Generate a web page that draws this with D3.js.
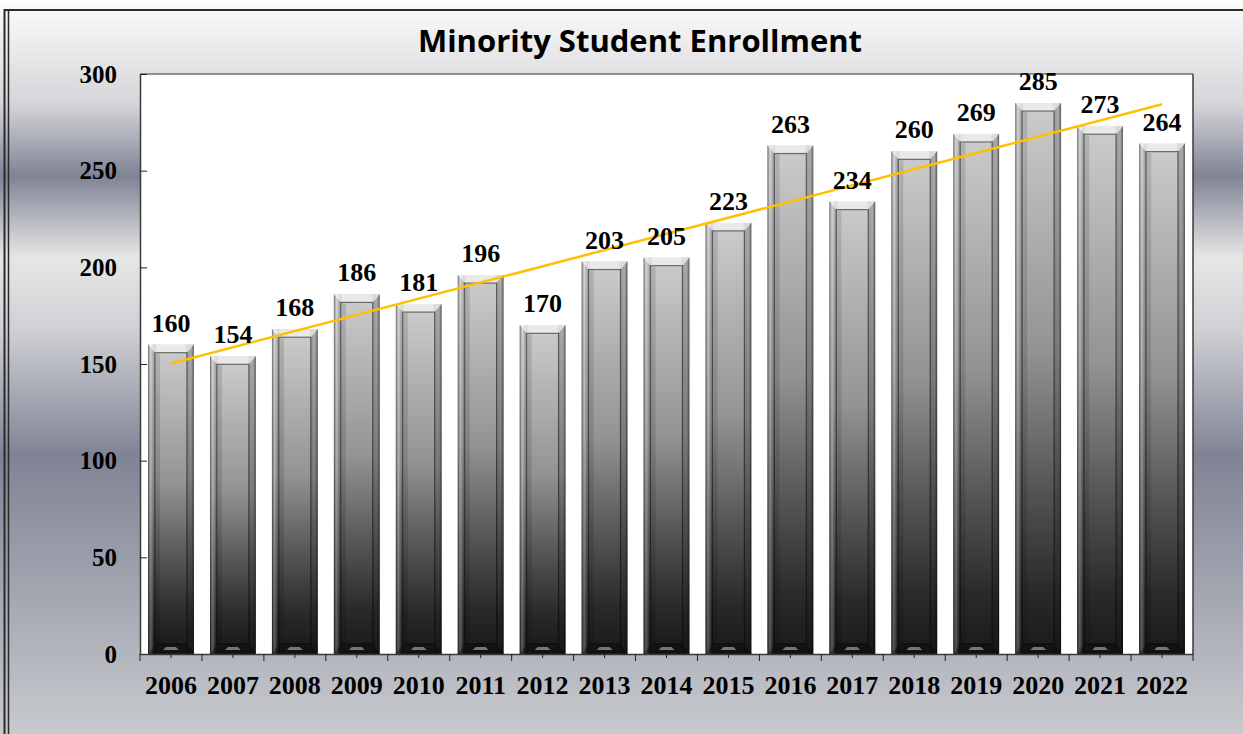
<!DOCTYPE html>
<html>
<head>
<meta charset="utf-8">
<script src="https://cdn.jsdelivr.net/npm/d3@7"></script>
<style>
  body { margin: 0; background: #fff; }
  svg { display: block; }
</style>
</head>
<body>
<div id="chart"></div>
<script>
// data
const years = ["2006", "2007", "2008", "2009", "2010", "2011", "2012", "2013", "2014",
               "2015", "2016", "2017", "2018", "2019", "2020", "2021", "2022"];
const enrollment = [160, 154, 168, 186, 181, 196, 170, 203, 205, 223, 263, 234, 260, 269, 285, 273, 264];
const yTicks = [0, 50, 100, 150, 200, 250, 300];
const chartTitle = "Minority Student Enrollment";

const width = 1243, height = 734;
const plot = {left: 140, right: 1193, top: 74, bottom: 654};

const svg = d3.select("#chart").append("svg")
    .attr("width", width)
    .attr("height", height)
    .attr("viewBox", [0, 0, width, height]);

const defs = svg.append("defs");

// background bands
const bg = defs.append("linearGradient")
    .attr("id", "bg").attr("x1", 0).attr("y1", 0).attr("x2", 0).attr("y2", 1);
[[0, "#fcfcfc"], [0.14, "#d6d6da"], [0.24, "#7f8394"], [0.35, "#e6e6e6"],
 [0.45, "#cfd0d4"], [0.62, "#7f8394"], [1, "#c8cace"]]
  .forEach(([o, c]) => bg.append("stop").attr("offset", o).attr("stop-color", c));

// bar body, light on top to black at the foot
const barV = defs.append("linearGradient")
    .attr("id", "barV").attr("x1", 0).attr("y1", 0).attr("x2", 0).attr("y2", 1);
[[0, "#cacaca"], [0.45, "#939393"], [0.7, "#575757"], [0.9, "#2a2a2a"], [1, "#1c1c1c"]]
  .forEach(([o, c]) => barV.append("stop").attr("offset", o).attr("stop-color", c));

const barH = defs.append("linearGradient")
    .attr("id", "barH").attr("x1", 0).attr("y1", 0).attr("x2", 1).attr("y2", 0);
[[0, "rgba(0,0,0,0.5)"], [0.06, "rgba(255,255,255,0.25)"], [0.14, "rgba(0,0,0,0.2)"],
 [0.2, "rgba(0,0,0,0)"], [0.8, "rgba(0,0,0,0)"], [0.86, "rgba(0,0,0,0.2)"],
 [0.94, "rgba(0,0,0,0.15)"], [1, "rgba(0,0,0,0.55)"]]
  .forEach(([o, c]) => barH.append("stop").attr("offset", o).attr("stop-color", c));

svg.append("rect")
    .attr("width", width).attr("height", height)
    .attr("fill", "url(#bg)");

// outer frame
svg.append("line").attr("x1", 4.5).attr("x2", 4.5).attr("y1", 9).attr("y2", height)
    .attr("stroke", "#2a2a2a").attr("stroke-width", 2);
svg.append("line").attr("x1", 8.5).attr("x2", 8.5).attr("y1", 10).attr("y2", height)
    .attr("stroke", "#2a2a2a").attr("stroke-width", 1.5);
svg.append("line").attr("x1", 4).attr("x2", width).attr("y1", 10).attr("y2", 10)
    .attr("stroke", "#2a2a2a").attr("stroke-width", 2);

// plot area
svg.append("rect")
    .attr("x", plot.left).attr("y", plot.top)
    .attr("width", plot.right - plot.left).attr("height", plot.bottom - plot.top)
    .attr("fill", "#fff");
svg.append("line").attr("x1", plot.left).attr("x2", plot.right)
    .attr("y1", plot.top).attr("y2", plot.top)
    .attr("stroke", "#6e6e6e").attr("stroke-width", 1.5);
svg.append("line").attr("x1", plot.right).attr("x2", plot.right)
    .attr("y1", plot.top).attr("y2", plot.bottom)
    .attr("stroke", "#3a3a3a").attr("stroke-width", 1.5);

const x = d3.scaleBand(years, [plot.left, plot.right]);
const y = d3.scaleLinear([0, 300], [plot.bottom, plot.top]);
const barW = x.bandwidth() * 0.74;

// bars with a bevelled look
const bar = svg.append("g")
  .selectAll("g")
  .data(years)
  .join("g")
    .attr("transform", (d, i) => `translate(${x(d) + x.bandwidth() / 2 - barW / 2},${y(enrollment[i])})`);

const hOf = (d, i) => y(0) - y(enrollment[i]);
const e = 7, et = 8, eb = 10;

bar.append("rect")
    .attr("width", barW).attr("height", hOf)
    .attr("fill", "url(#barV)");
bar.append("rect")
    .attr("width", barW).attr("height", hOf)
    .attr("fill", "url(#barH)");
// top bevel
bar.append("path")
    .attr("d", `M0,0H${barW}L${barW - e},${et}H${e}Z`)
    .attr("fill", "rgba(255,255,255,0.6)");
// bottom bevel
bar.append("path")
    .attr("d", (d, i) => { const h = hOf(d, i); return `M0,${h}H${barW}L${barW - e},${h - eb}H${e}Z`; })
    .attr("fill", "rgba(0,0,0,0.35)");
bar.append("path")
    .attr("d", (d, i) => { const h = hOf(d, i); return `M${e + 8},${h - 4}H${barW - e - 8}L${barW - e - 11},${h - 7}H${e + 11}Z`; })
    .attr("fill", "rgba(200,200,200,0.55)");
// inner panel
bar.append("rect")
    .attr("x", e).attr("y", et)
    .attr("width", barW - 2 * e)
    .attr("height", (d, i) => Math.max(0, hOf(d, i) - et - eb))
    .attr("fill", "url(#barV)")
    .attr("stroke", "rgba(0,0,0,0.5)")
    .attr("stroke-width", 1.2);
bar.append("rect")
    .attr("x", e + 1).attr("y", et + 1)
    .attr("width", 4)
    .attr("height", (d, i) => Math.max(0, hOf(d, i) - et - eb - 2))
    .attr("fill", "rgba(0,0,0,0.12)");

// linear trend line
const xs = d3.range(enrollment.length);
const mx = d3.mean(xs), my = d3.mean(enrollment);
const slope = d3.sum(xs, i => (i - mx) * (enrollment[i] - my)) / d3.sum(xs, i => (i - mx) ** 2);
const intercept = my - slope * mx;
const cx = i => x(years[i]) + x.bandwidth() / 2;
svg.append("line")
    .attr("x1", cx(0)).attr("y1", y(intercept))
    .attr("x2", cx(years.length - 1)).attr("y2", y(intercept + slope * (years.length - 1)))
    .attr("stroke", "#ffc000")
    .attr("stroke-width", 2.5);

// value labels
svg.append("g")
    .attr("font-family", "'Liberation Serif', 'Times New Roman', serif")
    .attr("font-weight", "bold")
    .attr("font-size", 26)
    .attr("text-anchor", "middle")
  .selectAll("text")
  .data(years)
  .join("text")
    .attr("x", d => x(d) + x.bandwidth() / 2)
    .attr("y", (d, i) => y(enrollment[i]) - 13)
    .text((d, i) => enrollment[i]);

// y axis
svg.append("g")
    .attr("transform", `translate(${plot.left},0)`)
    .call(d3.axisLeft(y).tickValues(yTicks).tickSizeInner(-7).tickSizeOuter(0).tickPadding(23))
    .call(g => g.select(".domain").attr("stroke", "#3a3a3a").attr("stroke-width", 1.5))
    .call(g => g.selectAll(".tick line").attr("stroke", "#222"))
    .call(g => g.selectAll("text")
        .attr("fill", "#000")
        .attr("font-family", "'Liberation Serif', 'Times New Roman', serif")
        .attr("font-weight", "bold")
        .attr("font-size", 25));

// x axis: short ticks at centres, longer ones on category edges
svg.append("g")
    .attr("transform", `translate(0,${plot.bottom})`)
    .call(d3.axisBottom(x).tickSizeInner(4).tickSizeOuter(0).tickPadding(18))
    .call(g => g.select(".domain").attr("stroke", "#3a3a3a").attr("stroke-width", 1.5))
    .call(g => g.selectAll(".tick line").attr("stroke", "#222"))
    .call(g => g.selectAll("text")
        .attr("fill", "#000")
        .attr("font-family", "'Liberation Serif', 'Times New Roman', serif")
        .attr("font-weight", "bold")
        .attr("font-size", 26))
    .call(g => g.append("g")
      .selectAll("line")
      .data(d3.range(years.length + 1))
      .join("line")
        .attr("x1", i => plot.left + i * x.step())
        .attr("x2", i => plot.left + i * x.step())
        .attr("y1", 0).attr("y2", 7)
        .attr("stroke", "#222"));

// title
svg.append("text")
    .attr("x", 640).attr("y", 52)
    .attr("text-anchor", "middle")
    .attr("font-family", "'Open Sans', Lato, sans-serif")
    .attr("font-weight", "bold")
    .attr("font-size", 31)
    .attr("fill", "#000")
    .text(chartTitle);
</script>
</body>
</html>
